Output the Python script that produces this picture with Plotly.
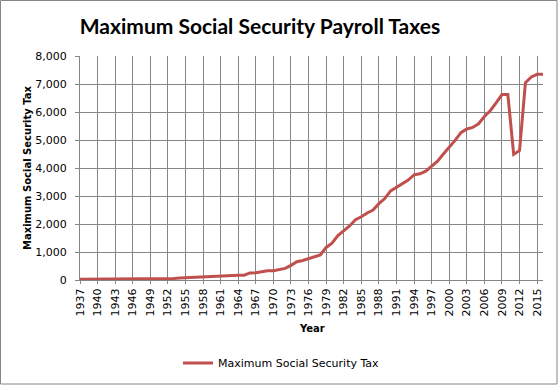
import plotly.graph_objects as go

years = list(range(1937, 2017))
max_tax = [
    30, 30, 30, 30, 30, 30, 30, 30, 30, 30, 30, 30, 30,          # 1937-1949
    45, 54, 54, 54, 72, 84, 84, 94.5, 94.5, 120,                  # 1950-1959
    144, 144, 150, 174, 174, 174, 254.1, 257.4, 296.4, 327.6,     # 1960-1969
    327.6, 358.8, 414, 523.8, 653.4, 697.95, 757.35, 816.75, 893.85, 1163.32,  # 1970-1979
    1315.72, 1588.95, 1749.6, 1927.8, 2154.6, 2257.2, 2394, 2496.6, 2727, 2908.8,  # 1980-1989
    3180.6, 3310.8, 3441, 3571.2, 3757.2, 3794.4, 3887.4, 4054.8, 4240.8, 4501.2,  # 1990-1999
    4724.4, 4984.8, 5263.8, 5394, 5449.8, 5580, 5840.4, 6045, 6324, 6621.6,        # 2000-2009
    6621.6, 4485.6, 4624.2, 7049.4, 7254, 7347, 7347,                              # 2010-2016
]
tick_years = list(range(1937, 2016, 3))
tick_labels = [str(y) for y in tick_years]
y_ticks = [0, 1000, 2000, 3000, 4000, 5000, 6000, 7000, 8000]
y_tick_labels = [f"{v:,}" for v in y_ticks]

W, H = 558, 385
L, R, T, B = 80, 15, 56, 105
pw, ph = W - L - R, H - T - B

fig = go.Figure()
fig.add_trace(go.Scatter(
    x=years, y=max_tax, mode="lines", name="Maximum Social Security Tax",
    line=dict(color="#C0504D", width=3),
))

grid = "#868686"
fig.update_layout(
    width=W, height=H,
    margin=dict(l=L, r=R, t=T, b=B, autoexpand=False),
    paper_bgcolor="white", plot_bgcolor="white",
    title=dict(text="<b>Maximum Social Security Payroll Taxes</b>",
               x=260 / W, xanchor="center", xref="container",
               y=1 - 27 / H, yanchor="middle", yref="container",
               font=dict(family="Lato", size=21, color="black")),
    showlegend=True,
    legend=dict(orientation="h", x=(178 - L) / pw, xanchor="left",
                y=(H - B - 363) / ph, yanchor="middle",
                font=dict(family="DejaVu Sans", size=11, color="black"),
                bgcolor="rgba(0,0,0,0)"),
    font=dict(family="DejaVu Sans", size=11, color="black"),
)
fig.update_xaxes(
    range=[1937, 2016], tickmode="array", tickvals=tick_years, ticktext=tick_labels,
    tickangle=-90, showgrid=True, gridcolor=grid, gridwidth=1,
    showline=True, linecolor=grid, linewidth=1, zeroline=False,
    ticks="outside", ticklen=3, tickcolor=grid, automargin=False,
    tickfont=dict(family="DejaVu Sans", size=11, color="black"),
)
fig.update_yaxes(
    range=[0, 8000], tickmode="array", tickvals=y_ticks, ticktext=y_tick_labels,
    showgrid=True, gridcolor=grid, gridwidth=1,
    showline=True, linecolor=grid, linewidth=1, zeroline=False,
    ticks="outside", ticklen=4, tickcolor=grid, ticklabelstandoff=6, automargin=False,
    tickfont=dict(family="DejaVu Sans", size=11, color="black"),
)
fig.add_annotation(text="<b>Maximum Social Security Tax</b>", textangle=-90,
                   x=(27 - L) / pw, y=0.5, xref="paper", yref="paper",
                   xanchor="center", yanchor="middle", showarrow=False,
                   font=dict(family="DejaVu Sans", size=10, color="black"))
fig.add_annotation(text="<b>Year</b>", x=0.5, y=(H - B - 328) / ph,
                   xref="paper", yref="paper", xanchor="center", yanchor="middle",
                   showarrow=False, font=dict(family="DejaVu Sans", size=10, color="black"))
fig.add_shape(type="rect", xref="paper", yref="paper",
              x0=(0.5 - L) / pw, x1=(W - 1 - L) / pw,
              y0=(H - B - (H - 1)) / ph, y1=(H - B - 0.5) / ph,
              line=dict(color="#868686", width=1), fillcolor="rgba(0,0,0,0)", layer="below")
fig.write_html("out.html", config={"displayModeBar": False},
               post_script="document.body.style.margin='0';document.body.style.overflow='hidden';")
